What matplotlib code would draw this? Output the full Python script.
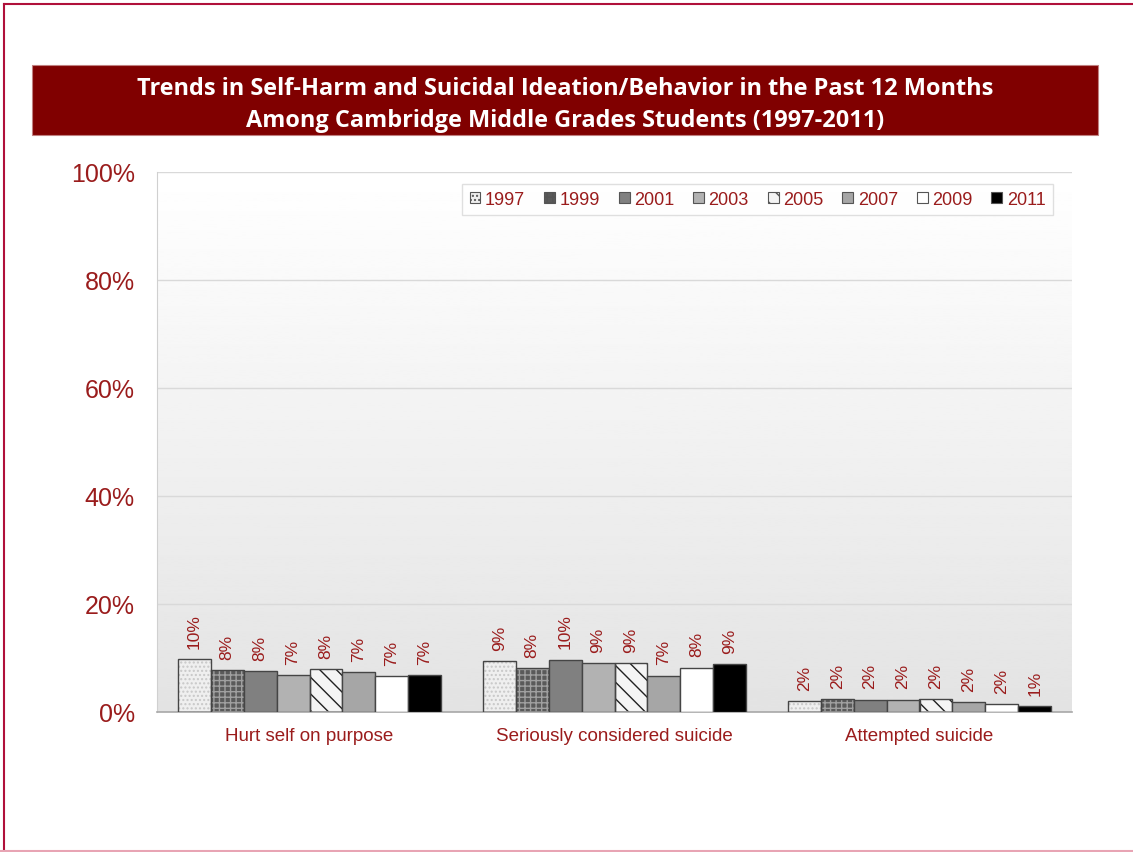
import numpy as np
import matplotlib.pyplot as plt
from matplotlib.patches import Rectangle
from matplotlib.lines import Line2D

# data (percent)
categories = ["Hurt self on purpose", "Seriously considered suicide", "Attempted suicide"]
years = ["1997", "1999", "2001", "2003", "2005", "2007", "2009", "2011"]
v1997 = [9.8, 9.4, 2.0]
v1999 = [7.7, 8.1, 2.4]
v2001 = [7.6, 9.7, 2.3]
v2003 = [6.8, 9.0, 2.3]
v2005 = [7.9, 9.1, 2.4]
v2007 = [7.4, 6.7, 1.8]
v2009 = [6.6, 8.2, 1.5]
v2011 = [6.8, 8.9, 1.1]
series = [v1997, v1999, v2001, v2003, v2005, v2007, v2009, v2011]

# fill, hatch, hatch colour per year
styles = [
    ("#efefef", "....", "#c8c8c8"),
    ("#5a5a5a", "+++", "#a0a0a0"),
    ("#808080", None, None),
    ("#b2b2b2", None, None),
    ("#f4f4f4", "\\\\", "#202020"),
    ("#a6a6a6", None, None),
    ("#ffffff", None, None),
    ("#000000", None, None),
]

red = "#9a1c1c"
plt.rcParams["hatch.linewidth"] = 1.0

fig = plt.figure(figsize=(11.33, 8.53), dpi=100)
ax = fig.add_axes([157 / 1133, 140 / 853, 915 / 1133, 540 / 853])

# gradient background of the plot area
grad = np.linspace(1.0, 0.89, 256).reshape(-1, 1)
ax.imshow(grad, cmap="gray", vmin=0, vmax=1, aspect="auto",
          extent=(-0.5, 2.5, 0, 100), zorder=0)

x = np.arange(len(categories))
w = 0.108
for i, (vals, (fc, hatch, hc)) in enumerate(zip(series, styles)):
    pos = x + (i - 3.5) * w
    if hatch:
        ax.bar(pos, vals, w, color=fc, hatch=hatch, edgecolor=hc, linewidth=0, zorder=2)
        ax.bar(pos, vals, w, fill=False, edgecolor="#454545", linewidth=1.0, zorder=3)
    else:
        ax.bar(pos, vals, w, color=fc, edgecolor="#454545", linewidth=1.0, zorder=3)
    for px, v in zip(pos, vals):
        ax.text(px, v + 2.1, f"{round(v)}%", rotation=90, ha="center", va="bottom",
                color=red, fontsize=12.5, family="Liberation Sans", zorder=4)

ax.set_xlim(-0.5, 2.5)
ax.set_ylim(0, 100)
ax.set_yticks(range(0, 101, 20))
ax.set_yticklabels([f"{t}%" for t in range(0, 101, 20)])
ax.set_xticks(x)
ax.set_xticklabels(categories)
ax.tick_params(axis="y", length=0, pad=16, labelsize=18, labelcolor=red)
ax.tick_params(axis="x", length=0, pad=11, labelsize=13.5, labelcolor=red)
for lab in ax.get_xticklabels() + ax.get_yticklabels():
    lab.set_family("Liberation Sans")
ax.grid(axis="y", color="#d9d9d9", linewidth=1.0, zorder=1)
ax.set_axisbelow(True)
for s in ["top", "right"]:
    ax.spines[s].set_visible(False)
ax.spines["left"].set_color("#d0d0d0")
ax.spines["bottom"].set_color("#a8a8a8")
ax.spines["bottom"].set_linewidth(1.2)

# legend
handles = []
for fc, hatch, hc in styles:
    handles.append(Rectangle((0, 0), 1, 1, facecolor=fc, hatch=hatch,
                             edgecolor="#555555", linewidth=0.8))
leg = ax.legend(handles, years, ncol=8, loc="upper right",
                bbox_to_anchor=(0.979, 0.978), borderaxespad=0,
                frameon=True, fancybox=False,
                handlelength=0.6, handleheight=0.6, handletextpad=0.25,
                columnspacing=1.05, borderpad=0.4,
                prop={"family": "Liberation Sans", "size": 13})
leg.get_frame().set_edgecolor("#d8d8d8")
leg.get_frame().set_linewidth(1.0)
for t in leg.get_texts():
    t.set_color(red)

# title banner
fig.patches.append(Rectangle((32 / 1133, 717 / 853), 1066 / 1133, 70 / 853,
                             transform=fig.transFigure, facecolor="#800000",
                             edgecolor="#c08080", linewidth=0.8))
fig.text(565 / 1133, 748 / 853,
         "Trends in Self-Harm and Suicidal Ideation/Behavior in the Past 12 Months\n"
         "Among Cambridge Middle Grades Students (1997-2011)",
         ha="center", va="center", color="white", fontsize=16.9, fontweight="bold",
         family="Open Sans", linespacing=1.42)

# page border
fig.lines.append(Line2D([4 / 1133, 4 / 1133], [0, 848 / 853], transform=fig.transFigure,
                        color="#b0103a", linewidth=1.5))
fig.lines.append(Line2D([4 / 1133, 1], [848 / 853, 848 / 853], transform=fig.transFigure,
                        color="#b0103a", linewidth=1.5))
fig.lines.append(Line2D([0, 1], [1 / 853, 1 / 853], transform=fig.transFigure,
                        color="#e8a4b4", linewidth=1.5))

fig.savefig("out.png", dpi=100)
